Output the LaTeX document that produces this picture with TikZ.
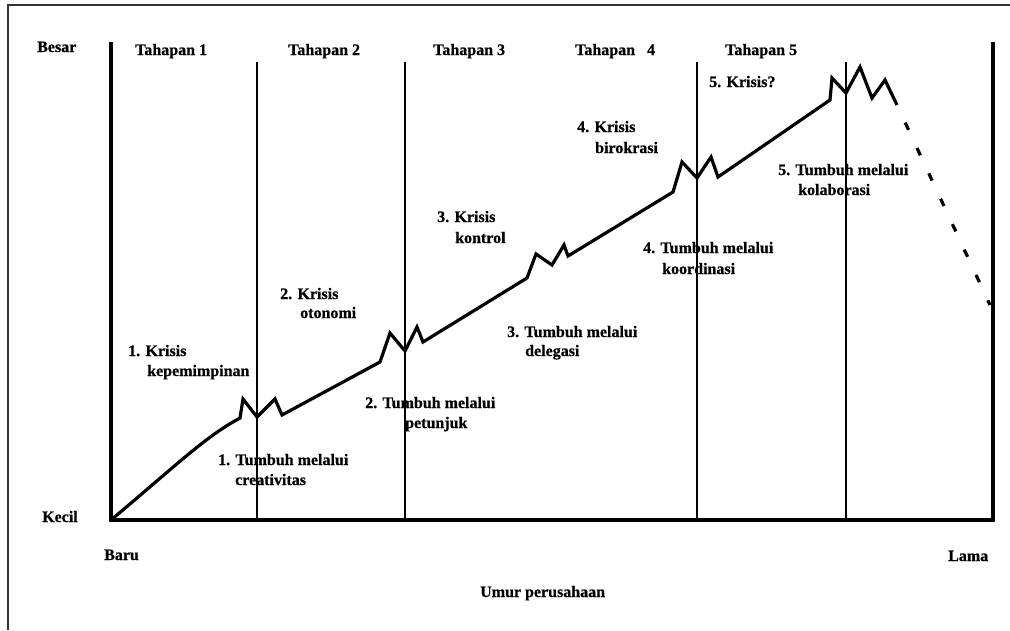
\documentclass[tikz,border=0pt]{standalone}
\usepackage{fontspec}
\setmainfont{Liberation Serif}[BoldFont={Liberation Serif Bold}]
\newfontfamily\labelfont{Liberation Serif Bold}[FakeBold=0.6]
\begin{document}
\begin{tikzpicture}[x=1pt,y=-1pt,
  lbl/.style={font=\labelfont\fontsize{16}{18}\selectfont, inner sep=0pt, anchor=base west},
  frameline/.style={line width=2.4pt, draw=black!80},
  axisline/.style={line width=4.2pt, line join=miter},
  stageline/.style={line width=1.3pt},
  growth/.style={line width=3.2pt, line join=miter},
  decline/.style={line width=3.2pt, dash pattern=on 8pt off 20pt, dash phase=8.6pt}]
\useasboundingbox (0,0) rectangle (1010,630);
\fill[white] (0,0) rectangle (1010,630);

% page frame (open to the right and bottom)
\draw[frameline] (1010,5) -- (8,5) -- (8,630);

% axes
\coordinate (yt) at (111,42);
\coordinate (o) at (111,520);
\coordinate (xe) at (993,520);
\coordinate (rt) at (993,42);
\draw[axisline] (yt) -- (o) -- (xe) -- (rt);

% stage boundaries
\foreach \x/\n in {257/b1,405/b2,697/b3,846/b4}
  \draw[stageline] (\x,62) coordinate (\n top) -- (\x,520) coordinate (\n bot);

% growth curve with crises
\draw[growth] (o) .. controls (180,462) and (205,437) .. (240,418)
  -- (243,399) -- (257,417) -- (275,399) -- (282,415)
  -- (380,362) -- (390,333) -- (405,351) -- (417,327) -- (423,342)
  -- (527,278) -- (536,254) -- (552,265) -- (564,245) -- (568,256)
  -- (673,192) -- (682,162) -- (697,178) -- (711,157) -- (718,177)
  -- (830,100) -- (832,78) -- (846,93) -- (860,67) -- (872,98) -- (885,80)
  -- (897,105) coordinate (peak);
\coordinate (fall) at (990,305);
\draw[decline] (peak) -- (fall);

% axis labels
\node[lbl] (besar) at (37,52) {Besar};
\node[lbl] (kecil) at (42,522) {Kecil};
\node[lbl] (baru) at (104,560) {Baru};
\node[lbl] (lama) at (948,561) {Lama};
\node[lbl] (umur) at (480,597) {Umur perusahaan};

% stage titles
\node[lbl] (t1) at (135,55) {Tahapan 1};
\node[lbl] (t2) at (288,55) {Tahapan 2};
\node[lbl] (t3) at (433,55) {Tahapan 3};
\node[lbl] (t4) at (575,55) {Tahapan\hspace{8pt} 4};
\node[lbl] (t5) at (725,55) {Tahapan 5};

% crises
\node[lbl] (k1a) at (128,356) {1. Krisis};
\node[lbl] (k1b) at (147,376) {kepemimpinan};
\node[lbl] (k2a) at (280,299) {2. Krisis};
\node[lbl] (k2b) at (300,318) {otonomi};
\node[lbl] (k3a) at (437,222) {3. Krisis};
\node[lbl] (k3b) at (455,243) {kontrol};
\node[lbl] (k4a) at (577,132) {4. Krisis};
\node[lbl] (k4b) at (595,153) {birokrasi};
\node[lbl] (k5) at (709,87) {5. Krisis?};

% growth phases
\node[lbl] (g1a) at (218,465) {1. Tumbuh melalui};
\node[lbl] (g1b) at (235,485) {creativitas};
\node[lbl] (g2a) at (365,408) {2. Tumbuh melalui};
\node[lbl] (g2b) at (405,428) {petunjuk};
\node[lbl] (g3a) at (507,337) {3. Tumbuh melalui};
\node[lbl] (g3b) at (525,356) {delegasi};
\node[lbl] (g4a) at (643,253) {4. Tumbuh melalui};
\node[lbl] (g4b) at (662,274) {koordinasi};
\node[lbl] (g5a) at (778,175) {5. Tumbuh melalui};
\node[lbl] (g5b) at (798,195) {kolaborasi};
\end{tikzpicture}
\end{document}
